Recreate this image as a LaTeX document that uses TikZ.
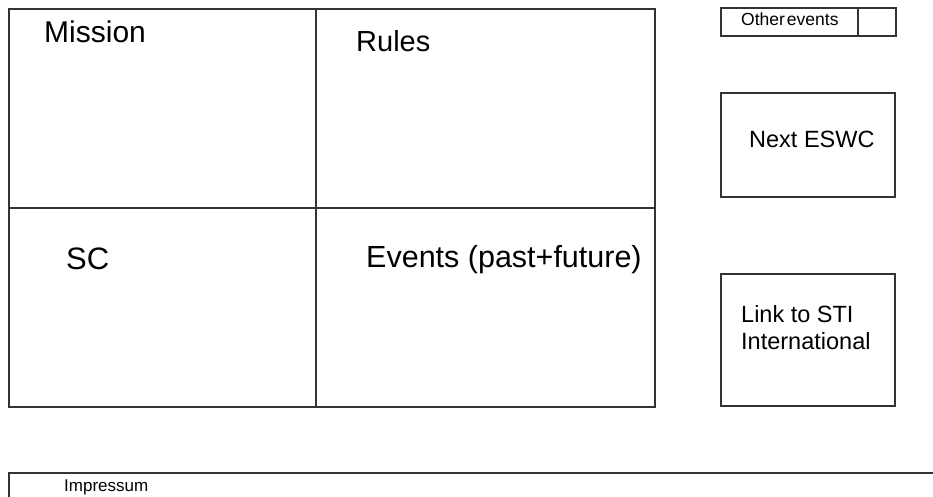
\documentclass[tikz,border=0pt]{standalone}
\usepackage{fontspec}
\setmainfont{Liberation Sans}
\begin{document}
\begin{tikzpicture}[x=1pt,y=-1pt,
  box/.style={draw=black!80,line width=1.6pt,fill=none,rectangle,inner sep=0pt,anchor=north west},
  big/.style={anchor=base west,inner sep=0pt,font=\fontsize{30}{34}\selectfont},
  mid/.style={anchor=base west,inner sep=0pt,font=\fontsize{23.5}{27}\selectfont},
  small/.style={anchor=base west,inner sep=0pt,font=\fontsize{17}{20}\selectfont}]
\useasboundingbox (0,0) rectangle (933,497);
\clip (0,0) rectangle (933,497);
\fill[white] (0,0) rectangle (933,497);
% grid cells
\node[box,minimum width=307pt,minimum height=199pt] (mission) at (8,8) {};
\node[box,minimum width=339pt,minimum height=199pt] (rules) at (315,8) {};
\node[box,minimum width=307pt,minimum height=199pt] (sc) at (8,207) {};
\node[box,minimum width=339pt,minimum height=199pt] (events) at (315,207) {};
% right column
\node[box,minimum width=137pt,minimum height=28pt] (other) at (720,7) {};
\node[box,minimum width=38pt,minimum height=28pt] (otherx) at (857,7) {};
\node[box,minimum width=174pt,minimum height=104pt] (eswc) at (720,92) {};
\node[box,minimum width=174pt,minimum height=132pt] (sti) at (720,273) {};
% impressum
\node[box,minimum width=960pt,minimum height=60pt] (imp) at (8,472) {};
% texts
\node[big] (tmission) at (44,43) {Mission};
\node[big,font=\fontsize{29}{33}\selectfont] (trules) at (356,52) {Rules};
\node[big,font=\fontsize{31}{35}\selectfont] (tsc) at (66,269) {SC};
\node[big,font=\fontsize{30.5}{34}\selectfont] (tevents) at (366,267) {Events (past+future)};
\node[mid] (teswc) at (749,148) {Next ESWC};
\node[mid] (tsti1) at (741,322) {Link to STI};
\node[mid] (tsti2) at (741,349) {International};
\node[small,font=\fontsize{17.5}{20}\selectfont] (tother) at (741,26) {Other\kern2pt events};
\node[small] (timp) at (64,491) {Impressum};
\end{tikzpicture}
\end{document}
